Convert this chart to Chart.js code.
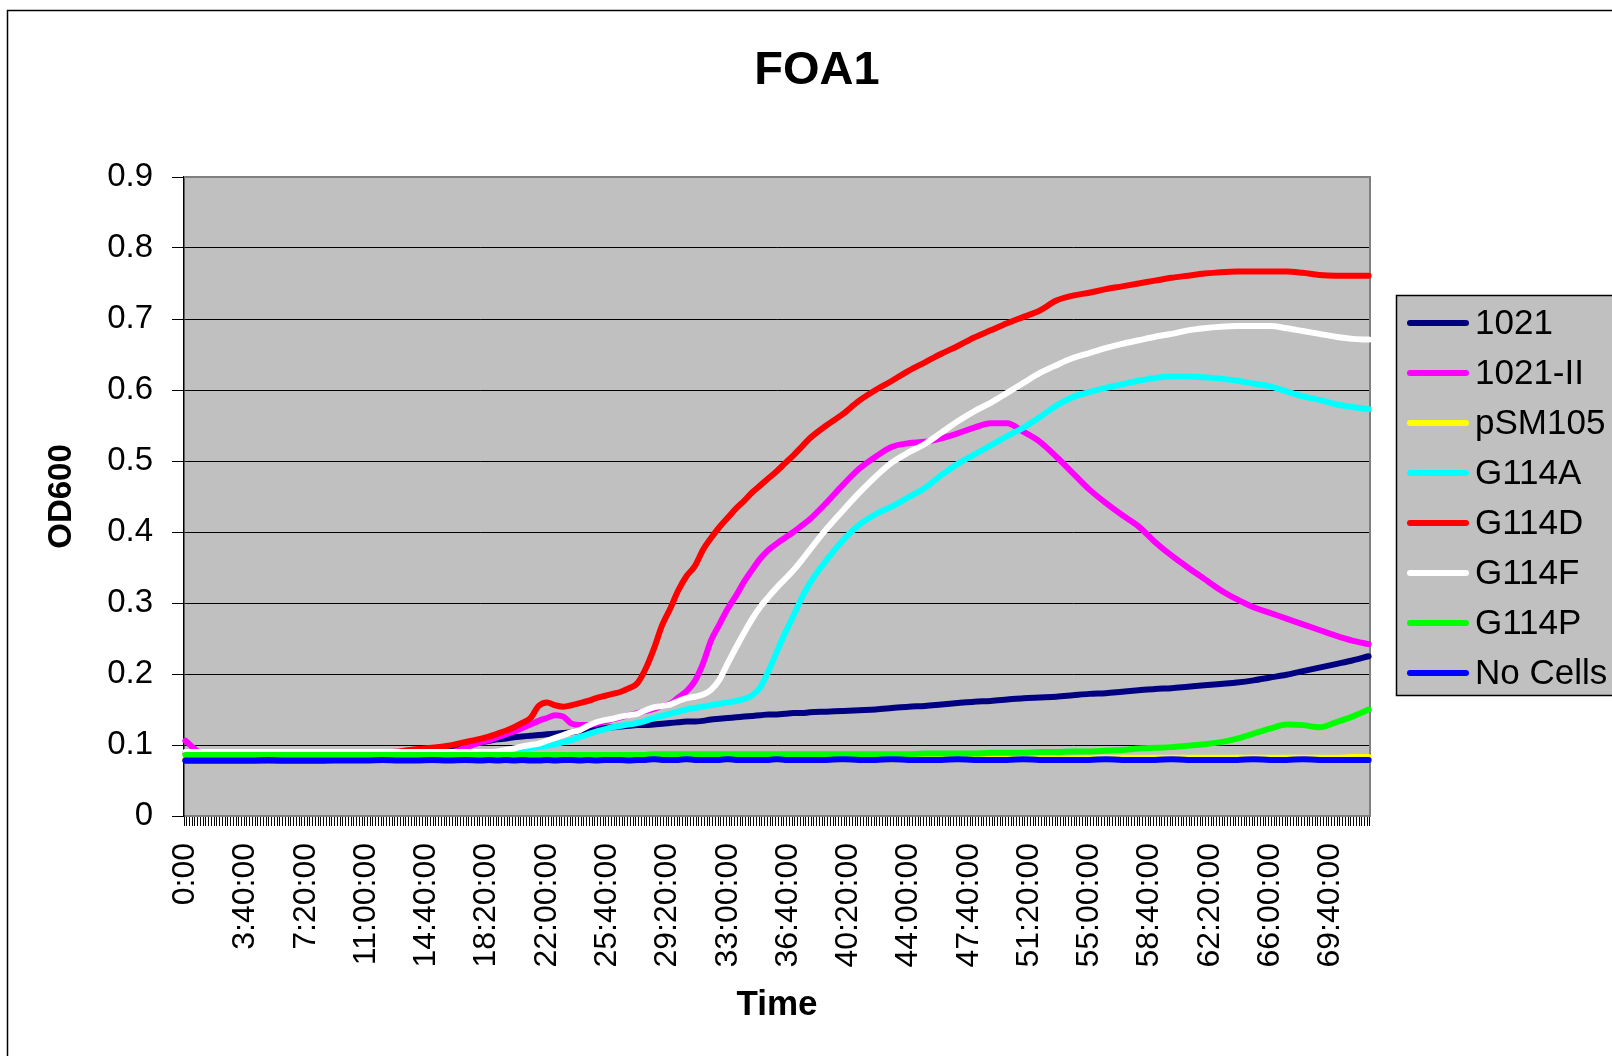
<!DOCTYPE html>
<html>
<head>
<meta charset="utf-8">
<title>FOA1</title>
<script src="https://cdn.jsdelivr.net/npm/chart.js@4/dist/chart.umd.min.js"></script>
<style>
  html, body { margin: 0; padding: 0; background: #ffffff; }
  canvas { display: block; }
</style>
</head>
<body>
<canvas id="chart" width="1612" height="1056"></canvas>
<script>
const FONT = "'Liberation Sans', Arial, sans-serif";

const chartTitle = 'FOA1';
const xTitle = 'Time';
const yTitle = 'OD600';

// Readings are taken hourly, and every half hour between 18 h and 38 h where the curves move fast.
const sampleHours = [
  0, 1, 2, 3, 4, 5, 6, 7, 8, 9, 10, 11, 12, 13, 14, 15, 16, 17, 18,
  18.5, 19, 19.5, 20, 20.5, 21, 21.5, 22, 22.5, 23,
  23.5, 24, 24.5, 25, 25.5, 26, 26.5, 27, 27.5, 28,
  28.5, 29, 29.5, 30, 30.5, 31, 31.5, 32, 32.5, 33,
  33.5, 34, 34.5, 35, 35.5, 36, 36.5, 37, 37.5, 38,
  39, 40, 41, 42, 43, 44, 45, 46, 47, 48,
  49, 50, 51, 52, 53, 54, 55, 56, 57, 58,
  59, 60, 61, 62, 63, 64, 65, 66, 67, 68,
  69, 70, 71, 72
];

// OD600 per strain at each sampleHours entry
const od1021 = [
  0.078, 0.078, 0.078, 0.078, 0.078, 0.078, 0.078, 0.078, 0.078, 0.079, 0.081, 0.083, 0.086, 0.089, 0.092, 0.095, 0.098, 0.101, 0.104,
  0.106, 0.108, 0.109, 0.111, 0.112, 0.113, 0.114, 0.115, 0.116, 0.117,
  0.118, 0.120, 0.121, 0.123, 0.124, 0.125, 0.126, 0.127, 0.128, 0.128,
  0.129, 0.130, 0.131, 0.132, 0.133, 0.133, 0.134, 0.136, 0.137, 0.138,
  0.139, 0.140, 0.141, 0.142, 0.143, 0.143, 0.144, 0.145, 0.145, 0.146,
  0.147, 0.148, 0.149, 0.150, 0.152, 0.154, 0.155, 0.157, 0.159, 0.161,
  0.162, 0.164, 0.166, 0.167, 0.168, 0.170, 0.172, 0.173, 0.175, 0.177,
  0.179, 0.180, 0.182, 0.184, 0.186, 0.188, 0.191, 0.195, 0.199, 0.204,
  0.209, 0.214, 0.219, 0.225
];
const od1021II = [
  0.106, 0.089, 0.089, 0.089, 0.089, 0.089, 0.089, 0.089, 0.089, 0.089, 0.089, 0.089, 0.089, 0.089, 0.089, 0.089, 0.089, 0.096, 0.104,
  0.107, 0.111, 0.115, 0.119, 0.124, 0.129, 0.134, 0.138, 0.142, 0.140,
  0.130, 0.128, 0.128, 0.130, 0.133, 0.136, 0.139, 0.142, 0.145, 0.148,
  0.151, 0.155, 0.158, 0.167, 0.176, 0.190, 0.215, 0.248, 0.270, 0.292,
  0.310, 0.330, 0.347, 0.363, 0.375, 0.384, 0.392, 0.400, 0.409, 0.418,
  0.441, 0.466, 0.489, 0.506, 0.520, 0.525, 0.527, 0.532, 0.539, 0.547,
  0.553, 0.553, 0.541, 0.527, 0.506, 0.483, 0.460, 0.441, 0.424, 0.408,
  0.386, 0.367, 0.350, 0.334, 0.318, 0.305, 0.294, 0.286, 0.278, 0.270,
  0.262, 0.254, 0.247, 0.242
];
const odPSM105 = [
  0.080, 0.080, 0.080, 0.080, 0.080, 0.080, 0.080, 0.080, 0.080, 0.080, 0.080, 0.080, 0.080, 0.080, 0.080, 0.080, 0.080, 0.080, 0.080,
  0.080, 0.080, 0.080, 0.080, 0.080, 0.080, 0.080, 0.080, 0.080, 0.080,
  0.080, 0.080, 0.080, 0.080, 0.080, 0.080, 0.080, 0.080, 0.080, 0.080,
  0.080, 0.080, 0.080, 0.080, 0.080, 0.080, 0.080, 0.080, 0.080, 0.080,
  0.080, 0.080, 0.080, 0.080, 0.080, 0.080, 0.080, 0.080, 0.080, 0.080,
  0.080, 0.080, 0.080, 0.080, 0.080, 0.080, 0.081, 0.081, 0.081, 0.081,
  0.081, 0.081, 0.081, 0.082, 0.082, 0.081, 0.082, 0.082, 0.082, 0.082,
  0.082, 0.082, 0.082, 0.082, 0.082, 0.082, 0.082, 0.082, 0.082, 0.082,
  0.082, 0.082, 0.083, 0.083
];
const odG114A = [
  0.089, 0.089, 0.089, 0.089, 0.089, 0.089, 0.089, 0.089, 0.089, 0.089, 0.089, 0.089, 0.089, 0.089, 0.089, 0.089, 0.089, 0.089, 0.089,
  0.089, 0.090, 0.091, 0.092, 0.094, 0.096, 0.097, 0.099, 0.101, 0.104,
  0.107, 0.111, 0.115, 0.119, 0.122, 0.125, 0.127, 0.129, 0.131, 0.134,
  0.138, 0.141, 0.144, 0.147, 0.150, 0.152, 0.154, 0.156, 0.158, 0.160,
  0.162, 0.165, 0.170, 0.182, 0.205, 0.232, 0.258, 0.282, 0.307, 0.328,
  0.360, 0.388, 0.410, 0.425, 0.436, 0.449, 0.462, 0.480, 0.496, 0.509,
  0.522, 0.535, 0.547, 0.562, 0.578, 0.590, 0.597, 0.603, 0.608, 0.613,
  0.617, 0.619, 0.619, 0.618, 0.616, 0.613, 0.609, 0.605, 0.598, 0.591,
  0.586, 0.580, 0.576, 0.573
];
const odG114D = [
  0.089, 0.089, 0.089, 0.089, 0.089, 0.089, 0.089, 0.089, 0.089, 0.089, 0.089, 0.089, 0.089, 0.091, 0.094, 0.096, 0.099, 0.104, 0.109,
  0.112, 0.116, 0.120, 0.125, 0.131, 0.138, 0.155, 0.160, 0.156, 0.154,
  0.156, 0.159, 0.162, 0.166, 0.169, 0.172, 0.175, 0.180, 0.187, 0.207,
  0.235, 0.268, 0.292, 0.318, 0.338, 0.352, 0.375, 0.392, 0.407, 0.420,
  0.433, 0.444, 0.456, 0.466, 0.476, 0.486, 0.497, 0.508, 0.520, 0.532,
  0.550, 0.566, 0.585, 0.600, 0.613, 0.627, 0.639, 0.651, 0.662, 0.674,
  0.684, 0.694, 0.703, 0.712, 0.726, 0.733, 0.737, 0.742, 0.746, 0.750,
  0.754, 0.758, 0.761, 0.764, 0.766, 0.767, 0.767, 0.767, 0.767, 0.765,
  0.762, 0.761, 0.761, 0.761
];
const odG114F = [
  0.090, 0.090, 0.090, 0.090, 0.090, 0.090, 0.090, 0.090, 0.090, 0.090, 0.090, 0.090, 0.090, 0.090, 0.090, 0.090, 0.090, 0.090, 0.090,
  0.090, 0.091, 0.093, 0.095, 0.098, 0.100, 0.102, 0.106, 0.110, 0.114,
  0.118, 0.121, 0.127, 0.132, 0.135, 0.137, 0.140, 0.142, 0.144, 0.149,
  0.153, 0.155, 0.157, 0.162, 0.166, 0.168, 0.171, 0.178, 0.192, 0.215,
  0.237, 0.258, 0.278, 0.295, 0.309, 0.322, 0.334, 0.346, 0.360, 0.375,
  0.404, 0.430, 0.455, 0.478, 0.498, 0.512, 0.524, 0.540, 0.556, 0.570,
  0.582, 0.596, 0.610, 0.624, 0.635, 0.645, 0.652, 0.659, 0.665, 0.670,
  0.675, 0.679, 0.684, 0.687, 0.689, 0.690, 0.690, 0.690, 0.687, 0.683,
  0.679, 0.675, 0.672, 0.671
];
const odG114P = [
  0.086, 0.086, 0.086, 0.086, 0.086, 0.086, 0.086, 0.086, 0.086, 0.086, 0.086, 0.086, 0.086, 0.086, 0.086, 0.086, 0.086, 0.086, 0.086,
  0.086, 0.086, 0.086, 0.086, 0.086, 0.086, 0.086, 0.086, 0.086, 0.086,
  0.086, 0.086, 0.086, 0.086, 0.086, 0.086, 0.086, 0.086, 0.086, 0.086,
  0.087, 0.087, 0.087, 0.087, 0.087, 0.087, 0.087, 0.087, 0.087, 0.087,
  0.087, 0.087, 0.087, 0.087, 0.087, 0.087, 0.087, 0.087, 0.087, 0.087,
  0.087, 0.087, 0.087, 0.087, 0.087, 0.087, 0.088, 0.088, 0.088, 0.088,
  0.089, 0.089, 0.089, 0.090, 0.090, 0.091, 0.091, 0.092, 0.093, 0.095,
  0.096, 0.097, 0.099, 0.101, 0.104, 0.109, 0.116, 0.123, 0.129, 0.128,
  0.125, 0.132, 0.140, 0.150
];
const odNoCells = [
  0.078, 0.078, 0.078, 0.078, 0.078, 0.079, 0.078, 0.078, 0.078, 0.078, 0.078, 0.078, 0.079, 0.078, 0.078, 0.079, 0.078, 0.079, 0.078,
  0.079, 0.078, 0.079, 0.078, 0.079, 0.078, 0.078, 0.079, 0.078, 0.079,
  0.079, 0.078, 0.079, 0.078, 0.079, 0.079, 0.079, 0.078, 0.079, 0.079,
  0.080, 0.079, 0.079, 0.079, 0.080, 0.079, 0.079, 0.079, 0.079, 0.080,
  0.079, 0.079, 0.079, 0.079, 0.079, 0.080, 0.079, 0.079, 0.079, 0.079,
  0.079, 0.080, 0.079, 0.079, 0.080, 0.079, 0.079, 0.079, 0.080, 0.079,
  0.079, 0.079, 0.080, 0.079, 0.079, 0.079, 0.079, 0.080, 0.079, 0.079,
  0.079, 0.080, 0.079, 0.079, 0.079, 0.079, 0.080, 0.079, 0.079, 0.080,
  0.079, 0.079, 0.079, 0.079
];

const seriesNames  = ['1021', '1021-II', 'pSM105', 'G114A', 'G114D', 'G114F', 'G114P', 'No Cells'];
const seriesColors = ['#000080', '#FF00FF', '#FFFF00', '#00FFFF', '#FF0000', '#FFFFFF', '#00FF00', '#0000FF'];
const seriesValues = [od1021, od1021II, odPSM105, odG114A, odG114D, odG114F, odG114P, odNoCells];

// One category every 10 minutes from 0:00 to 72:00:00
const timeLabels = [];
for (let m = 0; m <= 72 * 60; m += 10) {
  const h = Math.floor(m / 60);
  const mm = m % 60;
  timeLabels.push(m === 0 ? '0:00' : h + ':' + String(mm).padStart(2, '0') + ':00');
}

// Printed labels, one every 22 categories (3 h 40 min)
const tickLabels = [
  '0:00', '3:40:00', '7:20:00', '11:00:00', '14:40:00', '18:20:00', '22:00:00',
  '25:40:00', '29:20:00', '33:00:00', '36:40:00', '40:20:00', '44:00:00',
  '47:40:00', '51:20:00', '55:00:00', '58:40:00', '62:20:00', '66:00:00', '69:40:00'
];
const LABEL_STEP = 22;

const yTicks = ['0', '0.1', '0.2', '0.3', '0.4', '0.5', '0.6', '0.7', '0.8', '0.9'];

const LINE_WIDTH = 6;

const datasets = seriesNames.map((name, s) => ({
  label: name,
  data: sampleHours.map((h, i) => ({ x: timeLabels[Math.round(h * 6)], y: seriesValues[s][i] })),
  borderColor: seriesColors[s],
  backgroundColor: seriesColors[s],
  borderWidth: LINE_WIDTH,
  pointRadius: 0,
  fill: false,
  cubicInterpolationMode: 'monotone',
  borderCapStyle: 'round',
  borderJoinStyle: 'round',
  order: seriesNames.length - 1 - s   // later series sit on top
}));

// White page, outer frame and grey plot area
const plotBackground = {
  id: 'plotBackground',
  beforeDraw(chart) {
    const { ctx, chartArea: a } = chart;
    ctx.save();
    ctx.fillStyle = '#ffffff';
    ctx.fillRect(0, 0, chart.width, chart.height);
    ctx.strokeStyle = '#000000';
    ctx.lineWidth = 1.5;
    ctx.strokeRect(7.5, 10.5, chart.width + 50, chart.height + 50);
    ctx.fillStyle = '#c0c0c0';
    ctx.fillRect(a.left, a.top, a.right - a.left, a.bottom - a.top);
    ctx.restore();
  },
  beforeDatasetsDraw(chart) {
    const { ctx, chartArea: a } = chart;
    ctx.save();
    ctx.strokeStyle = '#808080';
    ctx.lineWidth = 2;
    ctx.beginPath();
    ctx.moveTo(a.left, a.top);
    ctx.lineTo(a.right, a.top);
    ctx.lineTo(a.right, a.bottom);
    ctx.stroke();
    ctx.restore();
  }
};

// Chart title and the legend box on the right
const titleAndLegend = {
  id: 'titleAndLegend',
  afterDraw(chart) {
    const { ctx } = chart;
    ctx.save();
    ctx.fillStyle = '#000000';
    ctx.font = 'bold 47px ' + FONT;
    ctx.textAlign = 'center';
    ctx.textBaseline = 'middle';
    ctx.fillText(chartTitle, 817, 71);

    const boxX = 1396, boxY = 295, boxH = 400, rowTop = 323, rowGap = 50;
    ctx.fillStyle = '#c0c0c0';
    ctx.fillRect(boxX, boxY, chart.width - boxX + 20, boxH);
    ctx.strokeStyle = '#000000';
    ctx.lineWidth = 1.5;
    ctx.strokeRect(boxX + 0.5, boxY + 0.5, chart.width - boxX + 20, boxH);

    chart.data.datasets.forEach((ds, i) => {
      const y = rowTop + i * rowGap;
      ctx.strokeStyle = ds.borderColor;
      ctx.lineWidth = LINE_WIDTH;
      ctx.lineCap = 'round';
      ctx.beginPath();
      ctx.moveTo(1410, y);
      ctx.lineTo(1466, y);
      ctx.stroke();
      ctx.fillStyle = '#000000';
      ctx.font = '35px ' + FONT;
      ctx.textAlign = 'left';
      ctx.textBaseline = 'middle';
      ctx.fillText(ds.label, 1475, y + 1);
    });
    ctx.restore();
  }
};

new Chart(document.getElementById('chart').getContext('2d'), {
  type: 'line',
  data: { labels: timeLabels, datasets },
  options: {
    responsive: false,
    animation: false,
    devicePixelRatio: 1,
    layout: { padding: { left: 20, right: 242, top: 177, bottom: 10 } },
    plugins: {
      legend: { display: false },
      title: { display: false },
      tooltip: { enabled: false }
    },
    scales: {
      x: {
        type: 'category',
        offset: true,
        grid: {
          offset: true,
          drawOnChartArea: false,
          drawTicks: true,
          tickLength: 10,
          color: '#000000',
          lineWidth: 1
        },
        border: { display: true, color: '#808080', width: 2 },
        ticks: {
          autoSkip: false,
          minRotation: 90,
          maxRotation: 90,
          padding: 17,
          color: '#000000',
          font: { family: FONT, size: 32 },
          callback: (value, index) => (index % LABEL_STEP === 0 ? tickLabels[index / LABEL_STEP] : '')
        },
        title: {
          display: true,
          text: xTitle,
          color: '#000000',
          font: { family: FONT, size: 35, weight: 'bold' },
          padding: { top: 0, bottom: 20 }
        },
        afterFit(scale) { scale.height = 230; }
      },
      y: {
        min: 0,
        max: 0.9,
        grid: {
          color: '#000000',
          lineWidth: 1,
          drawTicks: true,
          tickLength: 12
        },
        border: { display: true, color: '#000000', width: 1.5 },
        ticks: {
          stepSize: 0.1,
          padding: 19,
          color: '#000000',
          font: { family: FONT, size: 33 },
          callback: (value, index) => yTicks[index]
        },
        title: {
          display: true,
          text: yTitle,
          color: '#000000',
          font: { family: FONT, size: 33, weight: 'bold' },
          padding: { top: 22, bottom: 0 }
        },
        afterFit(scale) { scale.width = 164; }
      }
    }
  },
  plugins: [plotBackground, titleAndLegend]
});
</script>
</body>
</html>
